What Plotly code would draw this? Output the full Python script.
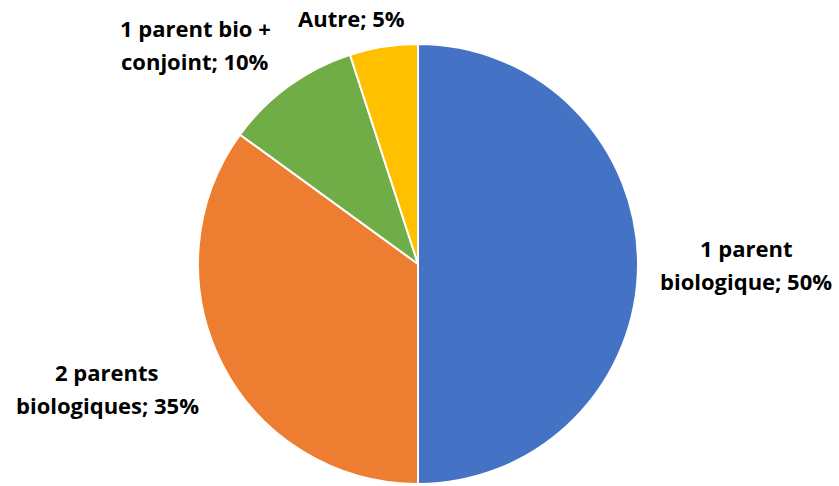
import plotly.graph_objects as go

W, H = 839, 486

categories = ["1 parent biologique", "2 parents biologiques", "1 parent bio + conjoint", "Autre"]
values = [50, 35, 10, 5]
label_lines = [
    ["1 parent", "biologique; 50%"],
    ["2 parents", "biologiques; 35%"],
    ["1 parent bio +", "conjoint; 10%"],
    ["Autre; 5%"],
]
colors = ["#4472C4", "#ED7D31", "#70AD47", "#FFC000"]

# label centre positions in pixels (x, y of first line), line spacing
label_pos = [(746, 248), (107, 372), (195, 28), (351, 18)]
LINE_H = 33

cx, cy, r = 418, 264, 220

fig = go.Figure(go.Pie(
    labels=categories,
    values=values,
    sort=False,
    direction="clockwise",
    rotation=0,
    marker=dict(colors=colors, line=dict(color="white", width=2)),
    textinfo="none",
    hoverinfo="label+percent",
    showlegend=False,
    domain=dict(x=[(cx - r) / W, (cx + r) / W], y=[1 - (cy + r) / H, 1 - (cy - r) / H]),
))

for lines, (px_, py_) in zip(label_lines, label_pos):
    for i, line in enumerate(lines):
        fig.add_annotation(
            x=px_ / W, y=1 - (py_ + i * LINE_H) / H,
            xref="paper", yref="paper",
            text=line, showarrow=False,
            xanchor="center", yanchor="middle",
            font=dict(family="Open Sans, sans-serif", size=22, color="#000000", weight="bold"),
        )

fig.update_layout(
    width=W, height=H,
    margin=dict(l=0, r=0, t=0, b=0),
    paper_bgcolor="white",
    plot_bgcolor="white",
)

# drop the default 8px page margin so the figure sits at 0,0
fig.write_html("out.html", config={"displayModeBar": False},
               post_script="document.body.style.margin='0';")
